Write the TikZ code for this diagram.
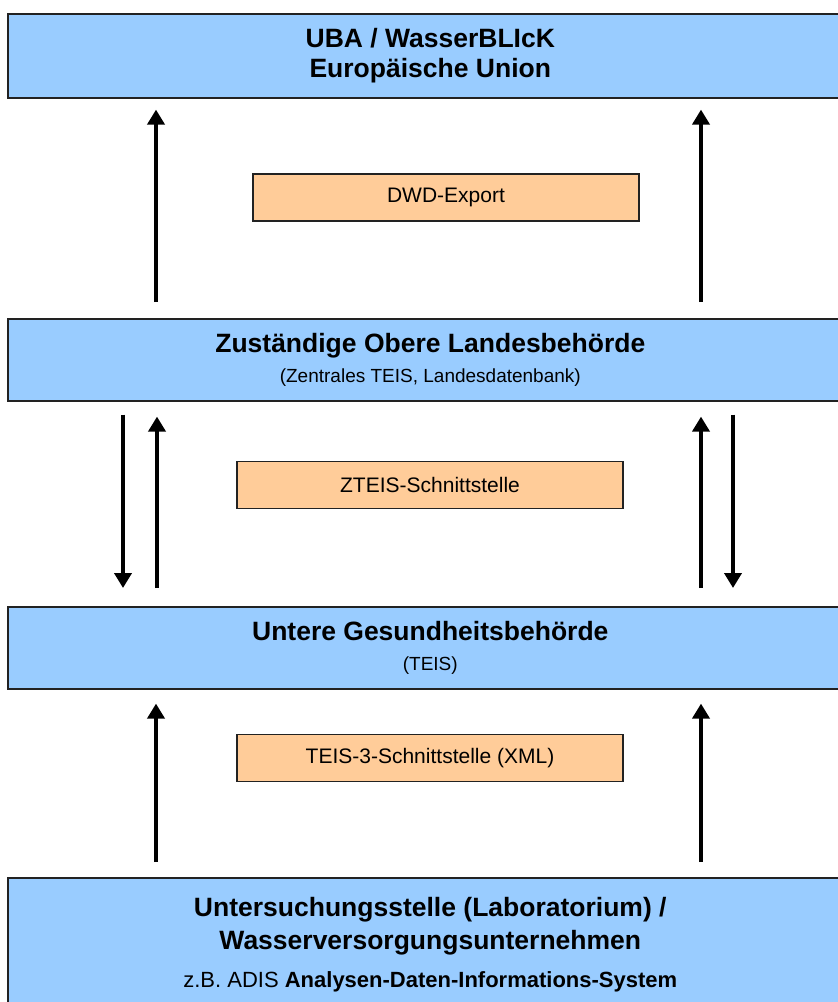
\documentclass[tikz,border=0pt]{standalone}
\usepackage{fontspec}
\setmainfont{Liberation Sans}
\usetikzlibrary{arrows.meta}
\definecolor{boxblue}{HTML}{99CCFF}
\definecolor{boxorange}{HTML}{FFCC99}
\definecolor{edge}{HTML}{222222}
\tikzset{
  bluebox/.style={draw=edge, line width=1.6pt, fill=boxblue, inner sep=0pt, align=center, anchor=north west, minimum width=845pt, font=\fontsize{26.5}{30}\selectfont\bfseries},
  orangebox/.style={draw=edge, line width=1.3pt, fill=boxorange, inner sep=0pt, minimum width=386pt, minimum height=47pt, font=\fontsize{21}{24}\selectfont},
  arr/.style={line width=4pt, -{Triangle[length=15pt,width=17pt]}},
}
\newcommand{\smallr}{\fontsize{19}{30}\selectfont\mdseries}
\begin{document}
\begin{tikzpicture}[x=1pt,y=-1pt]
\useasboundingbox (0,0) rectangle (838,1002);
\clip (0,0) rectangle (838,1002);
\fill[white] (0,0) rectangle (838,1002);
% blue boxes
\node[bluebox, minimum height=84pt] (uba) at (7,13)
  {UBA / WasserBLIcK\\Europäische Union};
\node[bluebox, minimum height=82pt] (zol) at (7,318)
  {Zuständige Obere Landesbehörde\\{\smallr (Zentrales TEIS, Landesdatenbank)}};
\node[bluebox, minimum height=82pt] (ugb) at (7,606)
  {Untere Gesundheitsbehörde\\{\smallr (TEIS)}};
\node[bluebox, minimum height=134pt] (lab) at (7,877)
  {Untersuchungsstelle (Laboratorium) /\\[3pt]Wasserversorgungsunternehmen\\[8pt]
   {\fontsize{22}{26}\selectfont\mdseries z.B. ADIS \bfseries Analysen-Daten-Informations-System}};
% orange boxes
\node[orangebox] (dwd) at (446,197.5) {DWD-Export};
\node[orangebox] (zteis) at (430,485) {ZTEIS-Schnittstelle};
\node[orangebox] (teis3) at (430,758) {TEIS-3-Schnittstelle (XML)};
% arrows top
\draw[arr] ([shift={(149,-16)}]zol.north west) -- ([shift={(149,11)}]uba.south west);
\draw[arr] ([shift={(694,-16)}]zol.north west) -- ([shift={(694,11)}]uba.south west);
% arrows middle
\draw[arr] ([shift={(116,13)}]zol.south west) -- ([shift={(116,-18)}]ugb.north west);
\draw[arr] ([shift={(150,-18)}]ugb.north west) -- ([shift={(150,15)}]zol.south west);
\draw[arr] ([shift={(694,-18)}]ugb.north west) -- ([shift={(694,15)}]zol.south west);
\draw[arr] ([shift={(726,13)}]zol.south west) -- ([shift={(726,-18)}]ugb.north west);
% arrows bottom
\draw[arr] ([shift={(149,-15)}]lab.north west) -- ([shift={(149,14)}]ugb.south west);
\draw[arr] ([shift={(694,-15)}]lab.north west) -- ([shift={(694,14)}]ugb.south west);
\end{tikzpicture}
\end{document}
